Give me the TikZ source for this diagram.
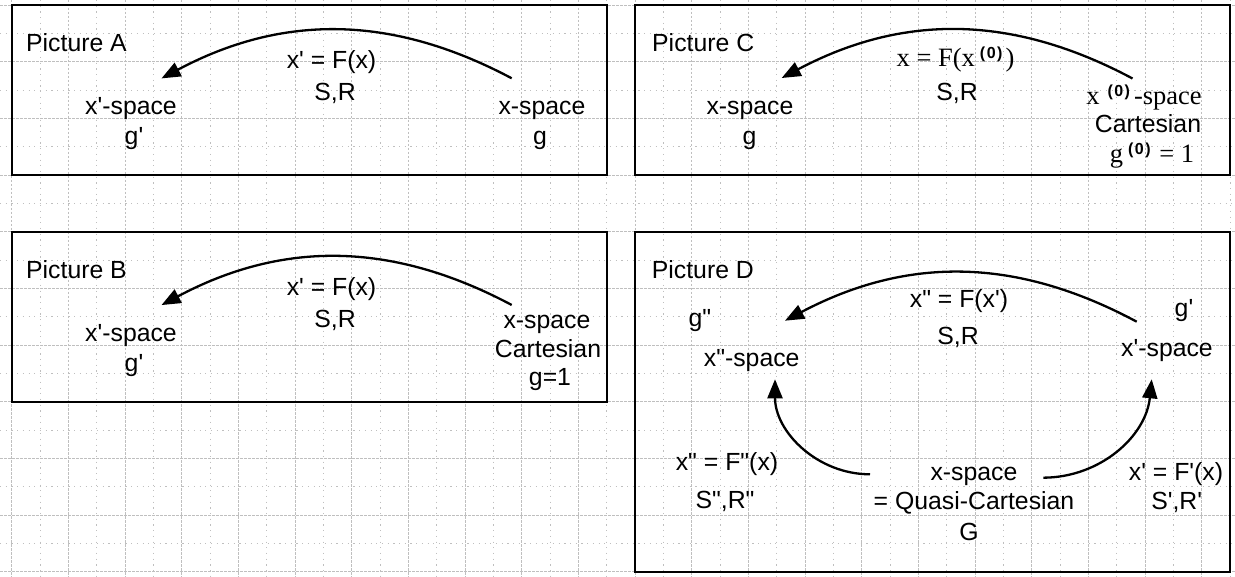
\documentclass[tikz,border=0pt]{standalone}
\usepackage{fontspec}
\usetikzlibrary{arrows.meta}
\newfontfamily\arialf{Liberation Sans}
\newfontfamily\tnr{Liberation Serif}
\newcommand\supz{\raisebox{8pt}{\arialf\fontsize{16}{16}\selectfont\bfseries (\kern1.5pt0\kern1.5pt)}}
\newcommand\tmr{\tnr\fontsize{26.5}{30}\selectfont}
\begin{document}
\begin{tikzpicture}[x=1pt,y=-1pt,
  txt/.style={font=\arialf\fontsize{24.8}{30}\selectfont, inner sep=0pt, anchor=base},
  lbl/.style={txt, anchor=base west},
  panel/.style={draw=black, line width=2pt},
  arc/.style={line width=2.3pt, -{Triangle[length=19pt,width=15pt]}},
  majorgrid/.style={draw=black!25, line width=0.9pt, dash pattern=on 2.5pt off 1.5pt},
  minorgrid/.style={draw=black!25, line width=0.9pt, dash pattern=on 1.2pt off 4.5pt}]
\useasboundingbox (0,0) rectangle (1235,577);
\fill[white] (0,0) rectangle (1235,577);
% grid
\foreach \k in {0,...,43}{
  \pgfmathsetmacro\gx{11.667+28.333*\k}
  \ifodd\k \draw[minorgrid] (\gx,0) -- (\gx,577); \else \draw[majorgrid] (\gx,0) -- (\gx,577); \fi
}
\foreach \k in {0,...,20}{
  \pgfmathsetmacro\gy{5+28.333*\k}
  \ifodd\k \draw[minorgrid] (0,\gy) -- (1235,\gy); \else \draw[majorgrid] (0,\gy) -- (1235,\gy); \fi
}
% panels
\draw[panel] (11.67,5) rectangle (606.67,175);
\draw[panel] (635,5) rectangle (1230,175);
\draw[panel] (11.67,231.67) rectangle (606.67,401.67);
\draw[panel] (635,231.67) rectangle (1230,571.67);
% Picture A
\node[lbl] (tA) at (26,51.7) {Picture A};
\node[txt] (fA) at (331.5,68.5) {x' = F(x)};
\node[txt] (srA) at (335,100.5) {S,R};
\node[txt] (xpA) at (131,115) {x'-space};
\node[txt] (gpA) at (134,145) {g'};
\node[txt] (xA) at (542,114.5) {x-space};
\node[txt] (gA) at (540,145) {g};
\coordinate (aAs) at (511.7,78.3);
\coordinate (aAe) at (161.5,78.4);
\draw[arc] (aAs) to[bend right=28] (aAe);
% Picture B
\begin{scope}[shift={(0,226.67)}]
\node[lbl] (tB) at (26,51.7) {Picture B};
\node[txt] (fB) at (331.5,68.5) {x' = F(x)};
\node[txt] (srB) at (335,100.5) {S,R};
\node[txt] (xpB) at (131,115) {x'-space};
\node[txt] (gpB) at (134,145) {g'};
\node[txt] (xB) at (547,102) {x-space};
\node[txt] (cB) at (548,131) {Cartesian};
\node[txt] (gB) at (550,159) {g=1};
\coordinate (aBs) at (511.7,78.3);
\coordinate (aBe) at (161.5,78.4);
\draw[arc] (aBs) to[bend right=28] (aBe);
\end{scope}
% Picture C
\node[lbl] (tC) at (652,52) {Picture C};
\node[txt] (fC) at (955.5,66.5) {\tmr x = F(x\hspace{5pt}\supz\hspace{3pt})};
\node[txt] (srC) at (957,101) {S,R};
\node[txt] (xC) at (750,114.6) {x-space};
\node[txt] (gC) at (749.5,144.5) {g};
\node[txt] (x0C) at (1144,104.7) {\tmr x\hspace{8pt}\supz\hspace{4pt}-space};
\node[txt] (cC) at (1148,132.5) {Cartesian};
\node[txt] (g0C) at (1152,163) {\tmr g\hspace{5pt}\supz\hspace{2pt} = 1};
\coordinate (aCs) at (1132.5,78.5);
\coordinate (aCe) at (781.7,78);
\draw[arc] (aCs) to[bend right=28] (aCe);
% Picture D
\node[lbl] (tD) at (651.7,278.3) {Picture D};
\node[txt] (g2D) at (700,326.7) {g"};
\node[txt] (x2D) at (751.7,366.7) {x"-space};
\node[txt] (fD) at (959,308) {x" = F(x')};
\node[txt] (srD) at (958,345) {S,R};
\node[txt] (g1D) at (1184,316.7) {g'};
\node[txt] (x1D) at (1167,356.7) {x'-space};
\node[txt] (f2D) at (727,470.7) {x" = F"(x)};
\node[txt] (sr2D) at (725,508.3) {S",R"};
\node[txt] (xD) at (974,480) {x-space};
\node[txt] (qD) at (974,509) {= Quasi-Cartesian};
\node[txt] (GD) at (969,540) {G};
\node[txt] (f1D) at (1176,480.7) {x' = F'(x)};
\node[txt] (sr1D) at (1176.7,509.3) {S',R'};
\coordinate (aDs) at (1136.7,321.7);
\coordinate (aDe) at (785,320.7);
\coordinate (bDs) at (870,474.3);
\coordinate (bDe) at (775,379.3);
\coordinate (cDs) at (1043.3,477.7);
\coordinate (cDe) at (1151.7,379.3);
\draw[arc] (aDs) to[bend right=28] (aDe);
\draw[arc] (bDs) to[bend left=45] (bDe);
\draw[arc] (cDs) to[bend right=42] (cDe);
\end{tikzpicture}
\end{document}
